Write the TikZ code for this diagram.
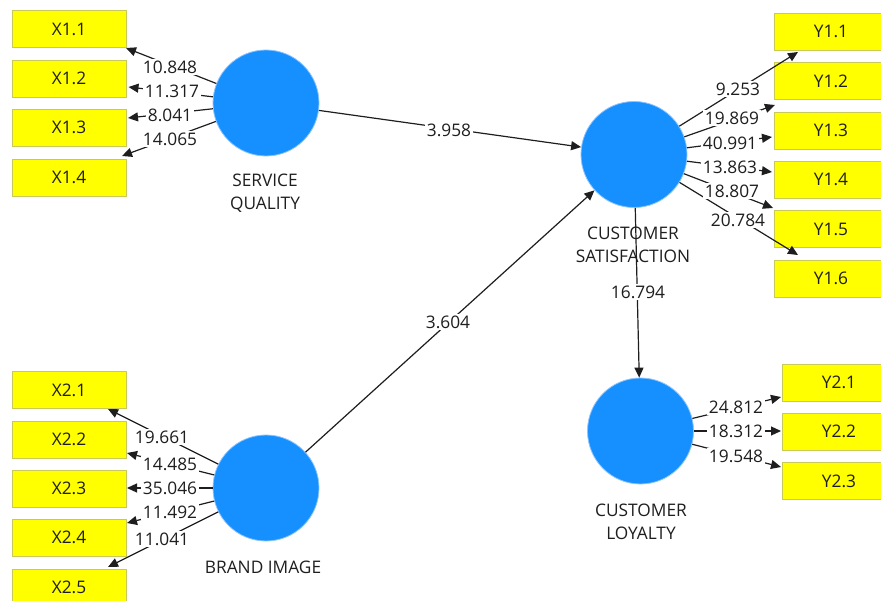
\documentclass[tikz,border=0pt]{standalone}
\usepackage{fontspec}
\setmainfont{Open Sans}
\usetikzlibrary{arrows.meta}
\definecolor{lvblue}{HTML}{1790FF}
\definecolor{lvrim}{HTML}{8CC4FF}
\definecolor{indyellow}{HTML}{FFFF00}
\definecolor{indrim}{HTML}{C9C95A}
\definecolor{ink}{HTML}{1E1E1E}
\tikzset{
  latent/.style={circle, fill=lvblue, draw=lvrim, line width=0.8pt, minimum size=106pt, inner sep=0pt},
  indicator/.style={rectangle, fill=indyellow, draw=indrim, line width=0.6pt, minimum width=114pt, minimum height=37pt, inner sep=0pt, text=ink},
  lvname/.style={align=center, text=ink, font=\fontsize{17.3}{23}\selectfont},
  coef/.style={fill=white, inner sep=1.5pt, text=ink},
  arr/.style={draw=ink, line width=1.2pt, -{Triangle[length=10pt,width=9pt]}},
}
\begin{document}
\begin{tikzpicture}[x=1pt, y=-1pt, font=\fontsize{17.3}{20}\selectfont]
\useasboundingbox (0,0) rectangle (881,601);
\clip (0,0) rectangle (881,601);

% latent variables
\node[latent] (sq) at (266,103) {};
\node[latent] (cs) at (634,154.5) {};
\node[latent] (cl) at (640.5,431) {};
\node[latent] (bi) at (266,488) {};

\node[lvname] (sqname) at (265,193.5) {SERVICE\\QUALITY};
\node[lvname] (csname) at (633,245) {CUSTOMER\\SATISFACTION};
\node[lvname] (clname) at (641,521.5) {CUSTOMER\\LOYALTY};
\node[lvname] (biname) at (263,567) {BRAND IMAGE};

% indicators
\node[indicator] (x11) at (69,29) {X1.1};
\node[indicator] (x12) at (69,78.5) {X1.2};
\node[indicator] (x13) at (69,127.5) {X1.3};
\node[indicator] (x14) at (69,177.5) {X1.4};

\node[indicator] (x21) at (69,390) {X2.1};
\node[indicator] (x22) at (69,439.5) {X2.2};
\node[indicator] (x23) at (69,488.5) {X2.3};
\node[indicator] (x24) at (69,537.5) {X2.4};
\node[indicator] (x25) at (69,587.5) {X2.5};

\node[indicator] (y11) at (831,31.5) {Y1.1};
\node[indicator] (y12) at (831,81) {Y1.2};
\node[indicator] (y13) at (831,130.5) {Y1.3};
\node[indicator] (y14) at (831,179.5) {Y1.4};
\node[indicator] (y15) at (831,229) {Y1.5};
\node[indicator] (y16) at (831,278.5) {Y1.6};

\node[indicator] (y21) at (839,382.5) {Y2.1};
\node[indicator] (y22) at (839,431.5) {Y2.2};
\node[indicator] (y23) at (839,481) {Y2.3};

% arrow ends on the indicator boxes
\coordinate (tx11) at (126,48);
\coordinate (tx12) at (128.5,87);
\coordinate (tx13) at (128,118);
\coordinate (tx14) at (122,156);

\coordinate (tx21) at (108,409);
\coordinate (tx22) at (127,453);
\coordinate (tx23) at (127,488);
\coordinate (tx24) at (127,523);
\coordinate (tx25) at (108,567);

\coordinate (ty11) at (798,52);
\coordinate (ty12) at (775,105);
\coordinate (ty13) at (772,137);
\coordinate (ty14) at (772,172);
\coordinate (ty15) at (773,208);
\coordinate (ty16) at (798,255);

\coordinate (ty21) at (781,397);
\coordinate (ty22) at (781,431);
\coordinate (ty23) at (781,467);

% outer loadings
\foreach \t in {tx11,tx12,tx13,tx14} \draw[arr] (sq) -- (\t);
\foreach \t in {tx21,tx22,tx23,tx24,tx25} \draw[arr] (bi) -- (\t);
\foreach \t in {ty11,ty12,ty13,ty14,ty15,ty16} \draw[arr] (cs) -- (\t);
\foreach \t in {ty21,ty22,ty23} \draw[arr] (cl) -- (\t);

% structural paths
\draw[arr] (sq) -- (cs);
\draw[arr] (bi) -- (cs);
\draw[arr] (cs) -- (cl);

% t-values
\node[coef] (l1) at (449,130) {3.958};
\node[coef] (l2) at (448,322) {3.604};
\node[coef] (l3) at (638,292) {16.794};

\node[coef] (a1) at (170,67) {10.848};
\node[coef] (a2) at (172,91) {11.317};
\node[coef] (a3) at (170,115) {8.041};
\node[coef] (a4) at (170,139) {14.065};

\node[coef] (b1) at (162,437) {19.661};
\node[coef] (b2) at (170,464) {14.485};
\node[coef] (b3) at (170,488) {35.046};
\node[coef] (b4) at (170,512) {11.492};
\node[coef] (b5) at (162,539) {11.041};

\node[coef] (c1) at (738,89) {9.253};
\node[coef] (c2) at (732,118) {19.869};
\node[coef] (c3) at (730,143) {40.991};
\node[coef] (c4) at (730,167) {13.863};
\node[coef] (c5) at (732,191) {18.807};
\node[coef] (c6) at (738,220) {20.784};

\node[coef] (d1) at (736,407) {24.812};
\node[coef] (d2) at (736,431) {18.312};
\node[coef] (d3) at (736,456) {19.548};
\end{tikzpicture}
\end{document}
